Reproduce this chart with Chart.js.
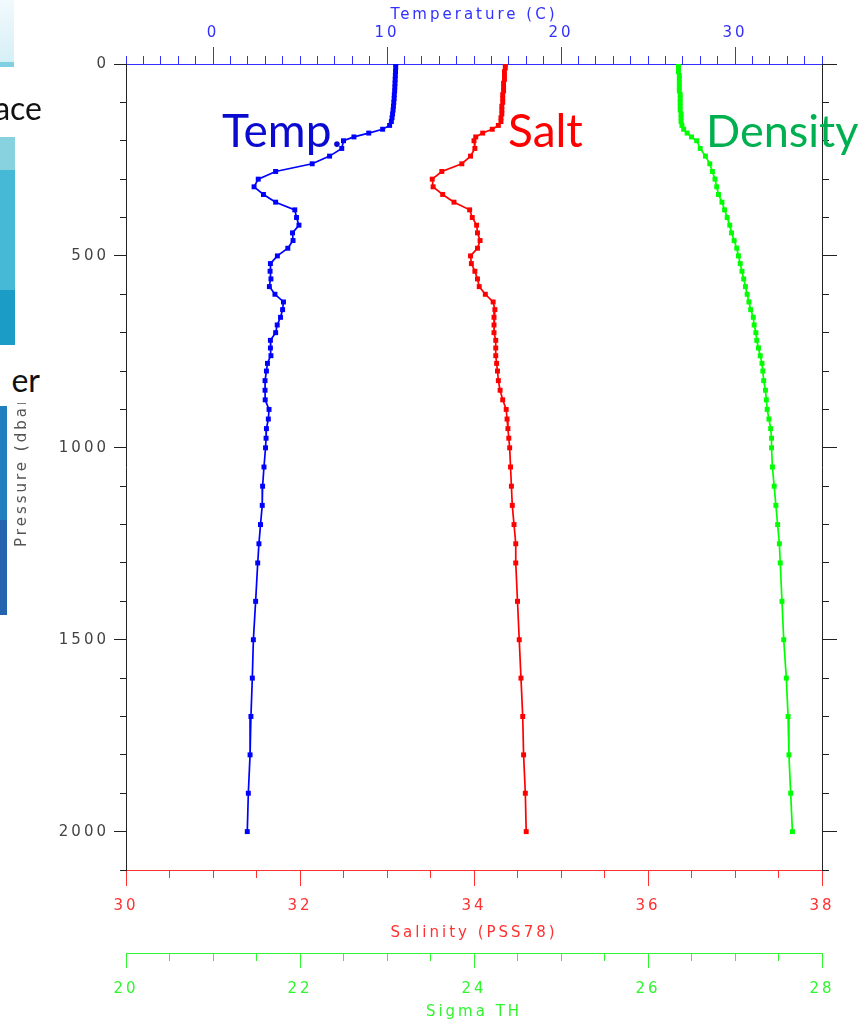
<!DOCTYPE html>
<html>
<head>
<meta charset="utf-8">
<script src="https://cdn.jsdelivr.net/npm/chart.js@4.4.1/dist/chart.umd.min.js"></script>
<style>
  html, body { margin: 0; padding: 0; background: #fff; }
  #wrap { position: relative; width: 864px; height: 1024px; overflow: hidden; background: #fff; }
  #chart { position: absolute; left: 0; top: 0; }
  .tag { position: absolute; font-family: Lato, 'Open Sans', sans-serif; font-size: 46px; line-height: 46px; white-space: nowrap; }
  .bit { position: absolute; }
  .word { position: absolute; font-family: Lato, 'Open Sans', sans-serif; font-size: 32px; line-height: 32px; color: #111; text-align: right; white-space: nowrap; }
</style>
</head>
<body>
<div id="wrap">
  <canvas id="chart" width="864" height="1024"></canvas>

  <!-- bits of the slide behind the chart, on the left edge -->
  <div class="bit" style="left:0;top:0;width:14px;height:62px;background:linear-gradient(#f2fafd,#d6eff7)"></div>
  <div class="bit" style="left:0;top:62px;width:14px;height:5px;background:#7fd0e0"></div>
  <div class="word" style="left:-60px;top:92px;width:102px;background:#fff">ace</div>
  <div class="bit" style="left:0;top:137px;width:15px;height:33px;background:#88d2e0"></div>
  <div class="bit" style="left:0;top:170px;width:15px;height:120px;background:#45b9d6"></div>
  <div class="bit" style="left:0;top:290px;width:15px;height:55px;background:#1b9cc6"></div>
  <div class="bit" style="left:0;top:345px;width:48px;height:58px;background:#fff"></div>
  <div class="word" style="left:-60px;top:364px;width:100px">er</div>
  <div class="bit" style="left:0;top:406px;width:7px;height:114px;background:#1f7fbf"></div>
  <div class="bit" style="left:0;top:520px;width:7px;height:95px;background:#2563ae"></div>

  <!-- slide labels over the chart -->
  <div class="tag" style="left:222px;top:107px;color:#0a0ad0">Temp.</div>
  <div class="tag" style="left:508px;top:107px;color:#ff0000">Salt</div>
  <div class="tag" style="left:706px;top:107px;color:#00b050;font-size:45px">Density</div>
</div>

<script>
// pressure levels (dbar), shared by the three profiles
const pressure = [
  0, 10, 20, 30, 40, 50, 60, 70, 80, 90, 100, 110, 120, 130, 140, 150,
  160, 170, 180, 190,
  200, 220, 240, 260, 280, 300, 320, 340, 360, 380, 400, 420, 440, 460, 480,
  500, 520, 540, 560, 580, 600, 620, 640, 660, 680, 700, 720, 740, 760, 780, 800,
  825, 850, 875, 900, 925, 950, 975, 1000,
  1050, 1100, 1150, 1200, 1250, 1300,
  1400, 1500, 1600, 1700, 1800, 1900, 2000
];

const temperature = [
  10.5, 10.5, 10.49, 10.48, 10.47, 10.46, 10.45, 10.44, 10.42, 10.41, 10.39, 10.37, 10.35, 10.32, 10.29, 10.25,
  10.15, 9.75, 8.95, 8.1,
  7.5, 7.4, 6.7, 5.7, 3.6, 2.6, 2.36, 2.9, 3.6, 4.7, 4.8, 4.94, 4.57, 4.6, 4.3,
  3.7, 3.3, 3.28, 3.33, 3.24, 3.56, 4.05, 4.0, 3.88, 3.69, 3.6, 3.3, 3.3, 3.33, 3.13, 3.07,
  2.99, 2.99, 3.0, 3.22, 3.18, 3.07, 3.05, 3.02,
  2.93, 2.85, 2.83, 2.73, 2.64, 2.57,
  2.45, 2.32, 2.26, 2.18, 2.13, 2.03, 1.97
];

const salinity = [
  34.36, 34.36, 34.35, 34.35, 34.35, 34.34, 34.34, 34.34, 34.33, 34.33, 34.33, 34.32, 34.32, 34.32, 34.31, 34.31,
  34.28, 34.21, 34.1, 34.02,
  34.0, 34.01, 33.96, 33.86, 33.63, 33.52, 33.53, 33.64, 33.77, 33.95, 33.98, 34.03, 34.04, 34.07, 34.04,
  33.96, 33.97, 34.01, 34.04, 34.06, 34.13, 34.22, 34.24, 34.23, 34.23, 34.23, 34.25, 34.25, 34.25, 34.26, 34.27,
  34.28, 34.3, 34.33, 34.37, 34.38, 34.39, 34.4, 34.41,
  34.42, 34.43, 34.44, 34.46, 34.48, 34.48,
  34.5, 34.52, 34.54, 34.56, 34.57, 34.59, 34.6
];

const sigmaTH = [
  26.35, 26.35, 26.35, 26.36, 26.36, 26.36, 26.36, 26.36, 26.37, 26.37, 26.37, 26.37, 26.37, 26.38, 26.38, 26.38,
  26.39, 26.41, 26.45, 26.5,
  26.56, 26.6, 26.66, 26.71, 26.74, 26.77, 26.79, 26.81, 26.85, 26.88, 26.91, 26.94, 26.96, 26.99, 27.02,
  27.04, 27.06, 27.08, 27.1, 27.12, 27.14, 27.16, 27.18, 27.21, 27.22, 27.24, 27.25, 27.27, 27.29, 27.31, 27.32,
  27.33, 27.35, 27.36, 27.37, 27.39, 27.41, 27.42, 27.42,
  27.43, 27.45, 27.47, 27.49, 27.51, 27.52,
  27.54, 27.56, 27.59, 27.61, 27.62, 27.64, 27.66
];

// labelled ticks
const tempTicks     = [0, 10, 20, 30];
const salTicks      = [30, 32, 34, 36, 38];
const sigmaTicks    = [20, 22, 24, 26, 28];
const pressureTicks = [0, 500, 1000, 1500, 2000];

const BLUE  = '#3131ff';
const RED   = '#ff3131';
const GREEN = '#31f531';
const INK   = '#222';
const axisFont = { family: 'DejaVu Sans', size: 15 };
const plain = v => String(v);   // no thousands separator

const toXY = vals => pressure.map((p, i) => ({ x: vals[i], y: p }));
const setTicks = arr => s => { s.ticks = arr.map(v => ({ value: v })); };
const height = h => s => { s.height = h; };
const width  = w => s => { s.width = w; };

// one axis for the long labelled ticks, a second one (zero size) for the short ticks
function majorX(pos, min, max, ticks, color, size, tick, pad, title, titlePad, weight) {
  return {
    type: 'linear', position: pos, min, max, weight,
    afterBuildTicks: setTicks(ticks), afterFit: height(size),
    ticks: { color, font: axisFont, padding: pad, maxRotation: 0, autoSkip: false, callback: plain },
    grid: { drawOnChartArea: false, tickLength: tick, color },
    border: { color },
    title: { display: true, text: title, color, font: axisFont, padding: titlePad }
  };
}
function minorX(pos, min, max, step, color, tick, weight) {
  return {
    type: 'linear', position: pos, min, max, weight,
    afterFit: height(0),
    ticks: { display: false, stepSize: step, autoSkip: false },
    grid: { drawOnChartArea: false, tickLength: tick, color },
    border: { display: false }
  };
}

// wider letters, closer to the plotting program's font
const spacing = {
  id: 'spacing',
  beforeDraw(chart) { chart.ctx.letterSpacing = '3px'; },
  afterDraw(chart) { chart.ctx.letterSpacing = '0px'; }
};

const line = (label, vals, color, xAxisID) => ({
  label, data: toXY(vals), xAxisID, yAxisID: 'y',
  showLine: true, borderColor: color, backgroundColor: color, borderWidth: 1.7,
  pointStyle: 'rect', pointRadius: 3.5, pointBorderWidth: 0, pointBackgroundColor: color
});

new Chart(document.getElementById('chart'), {
  type: 'scatter',
  data: {
    datasets: [
      line('Temperature', temperature, '#0000ff', 'x'),
      line('Salinity', salinity, '#ff0000', 'xSal'),
      line('Sigma TH', sigmaTH, '#00ff00', 'xSig')
    ]
  },
  options: {
    responsive: false,
    animation: false,
    devicePixelRatio: 1,
    layout: { padding: 0, autoPadding: false },
    plugins: { legend: { display: false }, tooltip: { enabled: false } },
    scales: {
      x:         majorX('top', -5, 35, tempTicks, BLUE, 64, 17, 5, 'Temperature (C)', { top: 6, bottom: 0 }, 2),
      xMinor:    minorX('top', -5, 35, 1, BLUE, 8, 1),
      xSalMinor: minorX('bottom', 30, 38, 0.5, RED, 8, 1),
      xSal:      majorX('bottom', 30, 38, salTicks, RED, 83, 16, 11, 'Salinity (PSS78)', { top: 0, bottom: 11 }, 2),
      xSigMinor: minorX('bottom', 20, 28, 0.5, GREEN, 8, 3),
      xSig:      majorX('bottom', 20, 28, sigmaTicks, GREEN, 71, 15, 12, 'Sigma TH', { top: 0, bottom: 3 }, 4),
      y: {
        type: 'linear', position: 'left', reverse: true, min: 0, max: 2100, weight: 2,
        afterBuildTicks: setTicks(pressureTicks), afterFit: width(126),
        ticks: { color: '#444', font: axisFont, padding: 5, callback: plain },
        grid: { drawOnChartArea: false, tickLength: 12, color: INK },
        border: { color: INK },
        title: { display: true, text: 'Pressure (dbar)', color: '#555', font: axisFont, padding: { top: 13, bottom: 0 } }
      },
      yMinor: {
        type: 'linear', position: 'left', reverse: true, min: 0, max: 2100, weight: 1,
        afterFit: width(0),
        ticks: { display: false, stepSize: 100, autoSkip: false },
        grid: { drawOnChartArea: false, tickLength: 6, color: INK },
        border: { display: false }
      },
      yRightMinor: {
        type: 'linear', position: 'right', reverse: true, min: 0, max: 2100, weight: 1,
        afterFit: width(0),
        ticks: { display: false, stepSize: 100, autoSkip: false },
        grid: { drawOnChartArea: false, tickLength: 7, color: INK },
        border: { display: false }
      },
      yRight: {
        type: 'linear', position: 'right', reverse: true, min: 0, max: 2100, weight: 2,
        afterBuildTicks: setTicks(pressureTicks), afterFit: width(42),
        ticks: { display: false },
        grid: { drawOnChartArea: false, tickLength: 15, color: INK },
        border: { color: INK }
      }
    }
  },
  plugins: [spacing]
});
</script>
</body>
</html>
